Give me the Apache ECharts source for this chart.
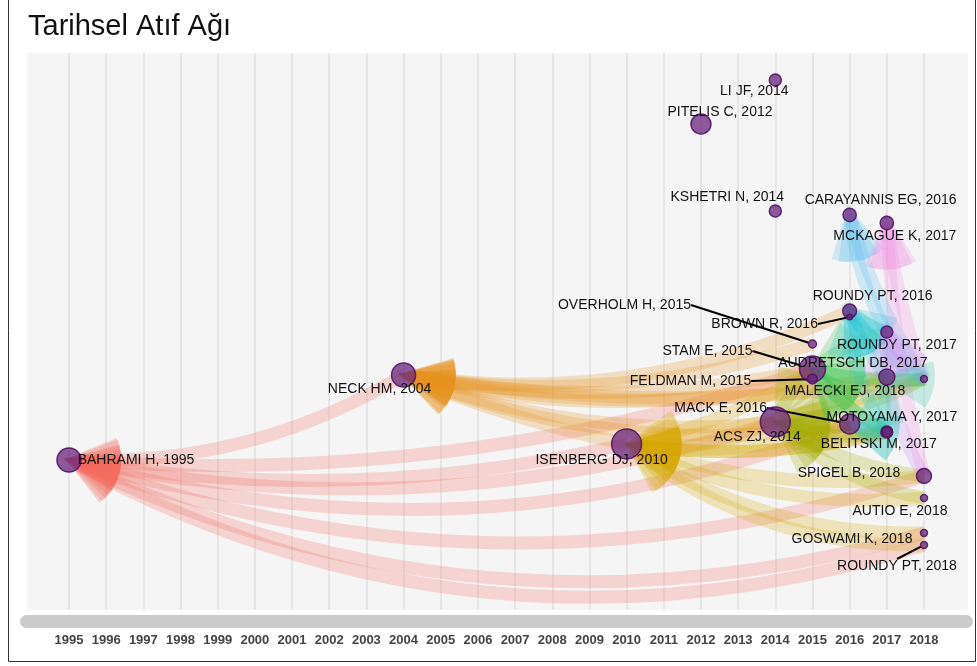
<!DOCTYPE html>
<html>
<head>
<meta charset="utf-8">
<title>Tarihsel Atıf Ağı</title>
<script src="https://cdn.jsdelivr.net/npm/echarts@6.0.0/dist/echarts.min.js"></script>
<style>
  html, body { margin: 0; padding: 0; background: #fff; }
  #hist-graph { width: 977px; height: 666px; }
</style>
</head>
<body>
<div id="hist-graph"></div>
<script>
// documents in the historiograph
const nodeNames = [
  'BAHRAMI H, 1995', 'NECK HM, 2004', 'ISENBERG DJ, 2010', 'PITELIS C, 2012',
  'LI JF, 2014', 'KSHETRI N, 2014', 'CARAYANNIS EG, 2016', 'MCKAGUE K, 2017',
  'ROUNDY PT, 2016', 'BROWN R, 2016', 'OVERHOLM H, 2015', 'ROUNDY PT, 2017',
  'STAM E, 2015', 'AUDRETSCH DB, 2017', 'FELDMAN M, 2015', 'MALECKI EJ, 2018',
  'MACK E, 2016', 'ACS ZJ, 2014', 'MOTOYAMA Y, 2017', 'BELITSKI M, 2017',
  'SPIGEL B, 2018', 'AUTIO E, 2018', 'GOSWAMI K, 2018', 'ROUNDY PT, 2018'
]
const nodeYears = [1995, 2004, 2010, 2012, 2014, 2014, 2016, 2017, 2016, 2016, 2015, 2017,
  2015, 2017, 2015, 2018, 2016, 2014, 2017, 2017, 2018, 2018, 2018, 2018]
// vertical row of each node (0 = top of plot)
const nodeRows = [407, 322, 391, 71, 27, 158, 162, 170, 258, 264, 291, 279,
  316, 324, 326, 326, 371, 369, 379, 379, 423, 445, 480, 492]
// local citation score (drives the circle size)
const nodeLCS = [36, 36, 56, 25, 9, 9, 11, 11, 12, 2, 4, 9,
  42, 16, 6, 3, 25, 56, 9, 6, 14, 3, 3, 3]

// citation links: citing -> cited
const linkFrom = [
  1, 2, 12, 17, 16, 20, 22, 23,
  2, 12, 14, 8, 17, 13, 16, 15, 10,
  17, 16, 18, 19, 20, 21, 22, 23, 12, 15,
  16, 18, 19, 20, 21, 13, 12, 15,
  13, 15, 11, 19, 18,
  11, 15, 19, 13,
  11, 15,
  15, 20,
  15, 20,
  15, 19,
  18, 19
]
const linkTo = [
  0, 0, 0, 0, 0, 0, 0, 0,
  1, 1, 1, 1, 1, 1, 1, 1, 1,
  2, 2, 2, 2, 2, 2, 2, 2, 2, 2,
  17, 17, 17, 17, 17, 17, 17, 17,
  12, 12, 12, 12, 12,
  8, 8, 8, 8,
  6, 6,
  7, 7,
  11, 11,
  13, 13,
  16, 16
]
const linkBend = [
  0.15, 0.1, 0.1, 0.13, 0.17, 0.175, 0.19, 0.21,
  0.05, 0.1, 0.12, 0.15, 0.12, 0.1, 0.14, 0.08, 0.12,
  0.15, 0.12, 0.1, 0.1, 0.12, 0.14, 0.16, 0.18, 0.1, 0.05,
  0.1, 0.1, 0.15, 0.12, 0.15, 0.05, -0.1, 0.1,
  0.1, 0.1, -0.1, 0.12, 0.1,
  0.1, 0.12, 0.15, 0.1,
  0.1, 0.08,
  0.05, 0.05,
  0.1, 0.15,
  0.1, 0.1,
  0.1, 0.1
]

// colour of the bands that point at each cited node
const citedColors = {
  0: '#f4675b', 1: '#e8941c', 2: '#d6a800', 17: '#a2aa00', 12: '#3cc34a',
  8: '#22c3d3', 6: '#57bdf0', 7: '#f18be3', 11: '#c58cf4', 13: '#2cc7a6', 16: '#34c6bb'
}
// label offsets from node centre
const labelDx = [67, -24, -25, 19, -21, -48, 31, 8, 23, -85, -188, 10,
  -105, -34, -122, -79, -129, -18, 5, -8, -75, -24, -72, -27]
const labelDy = [0, 14, 16, -12, 11, -14, -15, 13, -15, 7, -39, 13,
  -18, -14, 2, 12, -16, 15, -15, 12, -3, 13, 6, 21]
const leaderNodes = [9, 10, 12, 14, 16, 23]

// wedge-shaped arrow head, tip pushed forward so it sits against the node
const fanPath = 'path://M100,0 M0,100 M200,100 M100,200 M100,65 L147,170 Q100,190 53,170 Z'

const nodes = nodeNames.map((name, i) => ({
  name: name,
  value: [nodeYears[i], nodeRows[i]],
  symbolSize: 4 * Math.sqrt(nodeLCS[i]),
  labelLine: { show: leaderNodes.indexOf(i) >= 0 }
}))

const links = linkFrom.map((s, i) => ({
  source: s,
  target: linkTo[i],
  lineStyle: { color: citedColors[linkTo[i]], curveness: linkBend[i] }
}))

const chart = echarts.init(document.getElementById('hist-graph'))
chart.setOption({
  animation: false,
  textStyle: { fontFamily: 'Liberation Sans' },
  title: {
    text: 'Tarihsel Atıf Ağı',
    left: 23,
    top: 7,
    textStyle: { fontSize: 29, fontWeight: 'normal', color: '#111', fontFamily: 'Liberation Sans' }
  },
  grid: [
    { left: 27, top: 53, width: 941, height: 557, show: true, backgroundColor: '#f5f5f5', borderWidth: 0 },
    { left: 69, top: 53, width: 855, height: 557 }
  ],
  xAxis: [
    { gridIndex: 0, type: 'value', show: false },
    {
      gridIndex: 1,
      type: 'value',
      min: 1995,
      max: 2018,
      interval: 1,
      axisLine: { show: false },
      axisTick: { show: false },
      splitLine: { show: true, lineStyle: { color: '#e6e6e6', width: 2 } },
      axisLabel: {
        margin: 24,
        fontSize: 13,
        fontWeight: 'bold',
        color: '#444',
        formatter: v => String(v)
      }
    }
  ],
  yAxis: [
    { gridIndex: 0, type: 'value', show: false },
    { gridIndex: 1, type: 'value', min: 0, max: 557, inverse: true, show: false }
  ],
  graphic: [
    {
      type: 'rect',
      shape: { x: 20, y: 615, width: 953, height: 13, r: 6.5 },
      style: { fill: '#cbcbcb' },
      silent: true
    },
    {
      type: 'rect',
      shape: { x: 8.5, y: -0.5, width: 967, height: 662 },
      style: { fill: 'none', stroke: '#333', lineWidth: 1 },
      silent: true
    }
  ],
  series: [
    {
      type: 'graph',
      layout: 'none',
      coordinateSystem: 'cartesian2d',
      xAxisIndex: 1,
      yAxisIndex: 1,
      roam: false,
      edgeSymbol: ['none', fanPath],
      edgeSymbolSize: [1, 100],
      itemStyle: {
        color: 'rgba(100,30,120,0.72)',
        borderColor: 'rgba(80,20,100,0.9)',
        borderWidth: 1.5
      },
      lineStyle: { width: 13, opacity: 0.24 },
      label: {
        show: true,
        position: 'inside',
        fontSize: 14,
        color: '#111'
      },
      labelLine: {
        show: false,
        lineStyle: { color: '#000', width: 2, opacity: 1 }
      },
      labelLayout: function (params) {
        if (params.dataType === 'edge') return {}
        return { dx: labelDx[params.dataIndex], dy: labelDy[params.dataIndex] }
      },
      emphasis: { disabled: true },
      data: nodes,
      links: links
    }
  ]
})
</script>
</body>
</html>
